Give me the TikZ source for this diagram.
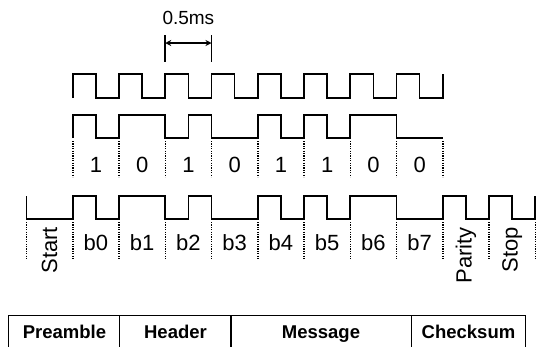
\documentclass[tikz,border=0pt]{standalone}
\usepackage{fontspec}
\setmainfont{Liberation Sans}
\usetikzlibrary{arrows.meta}
\begin{document}
\begin{tikzpicture}[x=1pt,y=-1pt,
  wave/.style={line width=1.7pt,line join=miter},
  sep/.style={line width=1.5pt,dash pattern=on 1.2pt off 1.2pt},
  lbl/.style={font=\fontsize{22}{22}\selectfont,inner sep=0pt},
  rlbl/.style={lbl,rotate=90,anchor=east},
  cell/.style={font=\bfseries\fontsize{18.5}{18.5}\selectfont,inner sep=0pt,anchor=base},
  tbl/.style={line width=1.8pt}]
\useasboundingbox (0,0) rectangle (539,346);
\begin{scope}[x=46.25pt,xshift=26.5pt]
% dimension 0.5ms
\coordinate (ta) at (3,43); \coordinate (tb) at (4,43);
\draw[line width=1.7pt] (3,35) -- (3,62) (4,35) -- (4,62);
\draw[line width=1.5pt,{Stealth[length=6pt,width=6pt]}-{Stealth[length=6pt,width=6pt]}] (ta) -- (tb);
\node[font=\fontsize{19}{19}\selectfont,inner sep=0pt] (dim) at (3.5,18) {0.5ms};
% clock
\draw[wave] (1,98) \foreach \i in {1,...,8}{ -- (\i,74) -- ({\i+0.5},74) -- ({\i+0.5},98) -- ({\i+1},98) } -- (9,74);
% data
\draw[wave] (1,138) -- (1,115) -- (1.5,115) -- (1.5,138) -- (2,138) -- (2,115) -- (3,115) -- (3,138) -- (3.5,138) -- (3.5,115) -- (4,115) -- (4,138) -- (5,138) -- (5,115) -- (5.5,115) -- (5.5,138) -- (6,138) -- (6,115) -- (6.5,115) -- (6.5,138) -- (7,138) -- (7,115) -- (8,115) -- (8,138) -- (9,138);
\foreach \i in {1,...,9} \draw[sep] (\i,141) -- (\i,177);
\foreach \v [count=\i] in {1,0,1,0,1,1,0,0} \node[lbl] (d\i) at ({\i+0.5},164.5) {\v};
% frame
\draw[wave] (0,196) -- (0,219) -- (1,219) -- (1,196) -- (1.5,196) -- (1.5,219) -- (2,219) -- (2,196) -- (3,196) -- (3,219) -- (3.5,219) -- (3.5,196) -- (4,196) -- (4,219) -- (5,219) -- (5,196) -- (5.5,196) -- (5.5,219) -- (6,219) -- (6,196) -- (6.5,196) -- (6.5,219) -- (7,219) -- (7,196) -- (8,196) -- (8,219) -- (9,219) -- (9,196) -- (9.5,196) -- (9.5,219) -- (10,219) -- (10,196) -- (10.5,196) -- (10.5,219) -- (11,219) -- (11,196);
\foreach \i in {0,...,11} \draw[sep] (\i,222) -- (\i,260);
\foreach \i in {0,...,7} \node[lbl] (b\i) at ({\i+1.5},243) {b\i};
\node[rlbl] (start) at (0.5,227) {Start};
\node[rlbl] (parity) at (9.5,227) {Parity};
\node[rlbl] (stop) at (10.5,227) {Stop};
\end{scope}
% packet table
\draw[tbl] (8.5,347) -- (8.5,315.5) -- (525.5,315.5) -- (525.5,347);
\draw[tbl] (119.5,315.5) -- (119.5,347) (231,315.5) -- (231,347) (411.5,315.5) -- (411.5,347);
\node[cell] (pre) at (64.5,338.5) {Preamble};
\node[cell] (hdr) at (175.5,338.5) {Header};
\node[cell] (msg) at (321,338.5) {Message};
\node[cell] (chk) at (468.5,338.5) {Checksum};
\end{tikzpicture}
\end{document}
